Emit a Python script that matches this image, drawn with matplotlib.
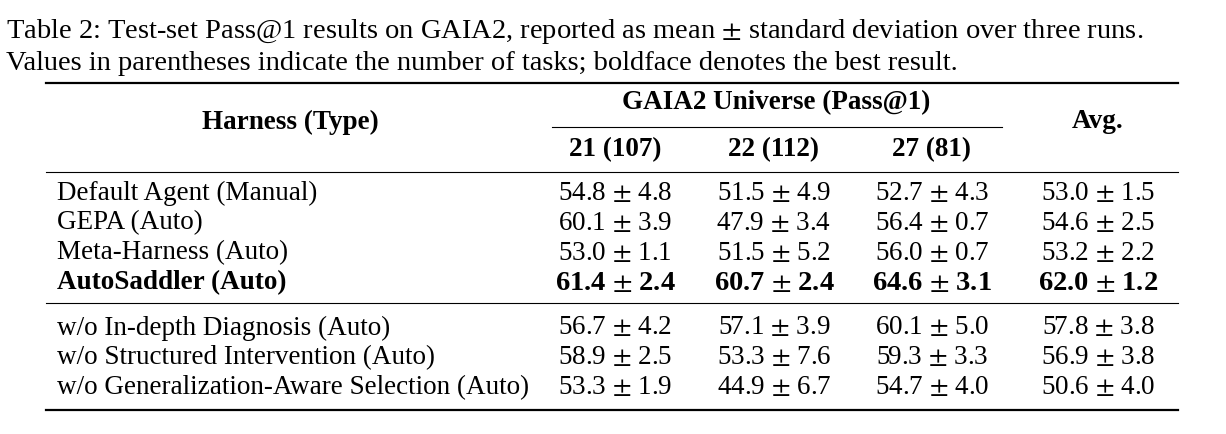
import matplotlib
matplotlib.use("Agg")
import matplotlib.pyplot as plt

plt.rcParams['font.family'] = ['Liberation Serif', 'DejaVu Serif']
plt.rcParams['mathtext.fontset'] = 'stix'

W, H = 1226, 434
caption = ["Table 2: Test-set Pass@1 results on GAIA2, reported as mean $\\pm$ standard deviation over three runs.",
           "Values in parentheses indicate the number of tasks; boldface denotes the best result."]
columns = ["21 (107)", "22 (112)", "27 (81)"]
rows_main = ["Default Agent (Manual)", "GEPA (Auto)", "Meta-Harness (Auto)", "AutoSaddler (Auto)"]
vals_main = [["54.8 ± 4.8", "51.5 ± 4.9", "52.7 ± 4.3", "53.0 ± 1.5"],
             ["60.1 ± 3.9", "47.9 ± 3.4", "56.4 ± 0.7", "54.6 ± 2.5"],
             ["53.0 ± 1.1", "51.5 ± 5.2", "56.0 ± 0.7", "53.2 ± 2.2"],
             ["61.4 ± 2.4", "60.7 ± 2.4", "64.6 ± 3.1", "62.0 ± 1.2"]]
rows_abl = ["w/o In-depth Diagnosis (Auto)", "w/o Structured Intervention (Auto)",
            "w/o Generalization-Aware Selection (Auto)"]
vals_abl = [["56.7 ± 4.2", "57.1 ± 3.9", "60.1 ± 5.0", "57.8 ± 3.8"],
            ["58.9 ± 2.5", "53.3 ± 7.6", "59.3 ± 3.3", "56.9 ± 3.8"],
            ["53.3 ± 1.9", "44.9 ± 6.7", "54.7 ± 4.0", "50.6 ± 4.0"]]

fig = plt.figure(figsize=(W/100, H/100), dpi=100)

def T(x, y, s, ha='left', bold=False, size=19.5):
    fig.text(x/W, 1 - y/H, s, ha=ha, va='center', fontsize=size,
             fontweight='bold' if bold else 'normal')

def V(s):
    a, b = s.split(" ± ")
    return a + " $\\pm$ " + b

def R(x0, x1, y, lw):
    fig.add_artist(plt.Line2D([x0/W, x1/W], [1 - y/H, 1 - y/H], color='black', lw=lw))

T(6, 32, caption[0], size=20.5)
T(6, 63, caption[1], size=20.5)
R(46, 1178, 83, 1.6)
T(290, 122, "Harness (Type)", ha='center', bold=True)
T(776, 103, "GAIA2 Universe (Pass@1)", ha='center', bold=True)
R(552, 1002, 127, 0.8)
colx = [615, 774, 932, 1098]
for x, c in zip(colx[:3], columns):
    T(x, 150, c, ha='center', bold=True)
T(1098, 122, "Avg.", ha='center', bold=True)
R(46, 1178, 172, 0.8)
for i, (r, v) in enumerate(zip(rows_main, vals_main)):
    y = 193 + 30 * i
    b = r.startswith("AutoSaddler")
    T(57, y, r, bold=b)
    for x, s in zip(colx, v):
        T(x, y, V(s), ha='center', bold=b, size=20.5 if b else 19.5)
R(46, 1178, 303, 0.8)
for i, (r, v) in enumerate(zip(rows_abl, vals_abl)):
    y = 328 + 30 * i
    T(57, y, r)
    for x, s in zip(colx, v):
        T(x, y, V(s), ha='center')
R(46, 1178, 410, 1.6)
fig.savefig("out.png", dpi=100)
